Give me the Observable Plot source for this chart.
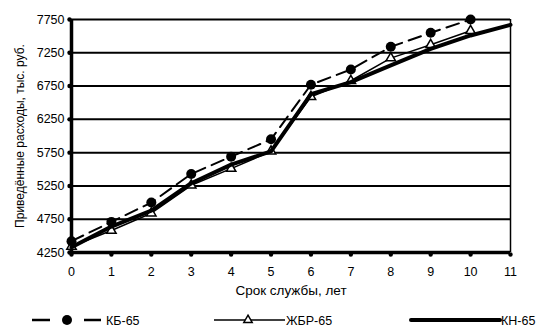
<!DOCTYPE html>
<html><head><meta charset="utf-8">
<script src="https://cdn.jsdelivr.net/npm/d3@7"></script>
<script src="https://cdn.jsdelivr.net/npm/@observablehq/plot@0.6"></script>
<style>
body{margin:0;background:#fff;font-family:"Liberation Sans",Arial,sans-serif;}
#legend{position:relative;width:556px;height:29px;}
</style>
</head><body>
<div id="chart"></div>
<div id="legend"></div>
<script>
const years = [0,1,2,3,4,5,6,7,8,9,10,11];
const yTicks = [4250,4750,5250,5750,6250,6750,7250,7750];
const seriesNames = ["КБ-65","ЖБР-65","КН-65"];
const kb  = [4420,4710,5000,5430,5690,5950,6770,7000,7340,7550,7750];
const zbr = [4340,4580,4840,5260,5510,5770,6590,6830,7170,7370,7580];
const kn  = [4330,4640,4880,5290,5570,5770,6630,6810,7060,7310,7510,7670];

const mk = arr => arr.map((v,i)=>({x:years[i], y:v}));
const dKB = mk(kb), dZ = mk(zbr), dKN = mk(kn);

const chart = Plot.plot({
  width:556, height:300,
  marginLeft:71, marginRight:46, marginTop:19, marginBottom:48,
  style:{fontFamily:"Liberation Sans, Arial, sans-serif", fontSize:"12px", color:"#000", background:"#fff"},
  x:{type:"linear", domain:[0,11]},
  y:{type:"linear", domain:[4250,7750]},
  marks:[
    Plot.ruleY(yTicks, {y:d=>d, stroke:"#000", strokeWidth:2}),
    Plot.ruleX([11], {x:d=>d, stroke:"#000", strokeWidth:1.5}),
    Plot.axisY({ticks:yTicks, tickSize:0, tickPadding:7, tickFormat:d3.format("d"), fontSize:12.5, label:null}),
    Plot.axisX({ticks:years, tickSize:0, tickPadding:15, tickFormat:d3.format("d"), fontSize:12.5, label:null}),
    Plot.axisY({ticks:[], label:"Приведённые расходы, тыс. руб.", labelAnchor:"center", labelOffset:56, labelArrow:"none", fontSize:12}),
    Plot.axisX({ticks:[], label:"Срок службы, лет", labelAnchor:"center", labelOffset:42, labelArrow:"none", fontSize:13.5}),
    Plot.dot(years, {x:d=>d, y:()=>4250, r:2.2, fill:"#000", dy:2}),
    Plot.dot(yTicks, {x:()=>0, y:d=>d, r:2.2, fill:"#000", dx:-2}),
    Plot.ruleX([0], {x:d=>d, stroke:"#000", strokeWidth:3.5}),
    Plot.ruleY([4250], {y:d=>d, stroke:"#000", strokeWidth:3.5}),
    Plot.line(dZ, {x:"x", y:"y", stroke:"#000", strokeWidth:1.5}),
    Plot.dot(dZ, {x:"x", y:"y", symbol:"triangle", r:3.5, fill:"#fff", stroke:"#000", strokeWidth:1.5}),
    Plot.line(dKN, {x:"x", y:"y", stroke:"#000", strokeWidth:4}),
    Plot.line(dKB, {x:"x", y:"y", stroke:"#000", strokeWidth:2, strokeDasharray:"13,7"}),
    Plot.dot(dKB, {x:"x", y:"y", r:5, fill:"#000"})
  ]
});
document.getElementById("chart").appendChild(chart);

// legend
const lg = d3.select("#legend").append("svg").attr("width",556).attr("height",29)
  .style("font-family","Liberation Sans, Arial, sans-serif").style("font-size","12.5px");
const cy = 20;
lg.append("line").attr("x1",32).attr("x2",50).attr("y1",cy).attr("y2",cy).attr("stroke","#000").attr("stroke-width",2.5);
lg.append("line").attr("x1",84).attr("x2",101).attr("y1",cy).attr("y2",cy).attr("stroke","#000").attr("stroke-width",2.5);
lg.append("circle").attr("cx",67).attr("cy",cy).attr("r",5).attr("fill","#000");
lg.append("text").attr("x",106).attr("y",cy+4.5).text(seriesNames[0]);
lg.append("line").attr("x1",214).attr("x2",285).attr("y1",cy).attr("y2",cy).attr("stroke","#000").attr("stroke-width",1.5);
lg.append("path").attr("d",d3.symbol(d3.symbolTriangle, 30)()).attr("transform",`translate(248,${cy})`).attr("fill","#fff").attr("stroke","#000").attr("stroke-width",1.5);
lg.append("text").attr("x",286).attr("y",cy+4.5).text(seriesNames[1]);
lg.append("line").attr("x1",411).attr("x2",500).attr("y1",cy).attr("y2",cy).attr("stroke","#000").attr("stroke-width",4).attr("stroke-linecap","round");
lg.append("text").attr("x",501).attr("y",cy+4.5).text(seriesNames[2]);
</script>
</body></html>
